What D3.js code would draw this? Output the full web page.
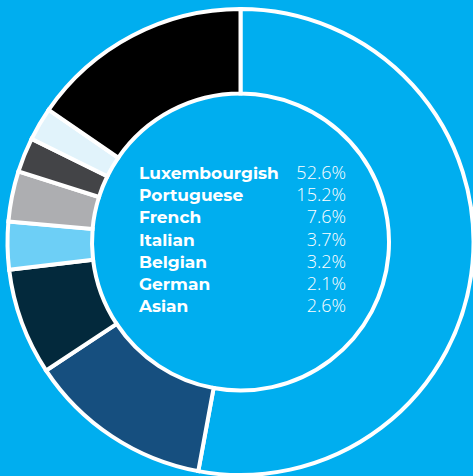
<!DOCTYPE html>
<html>
<head>
<meta charset="utf-8">
<script src="https://cdn.jsdelivr.net/npm/d3@7"></script>
<style>
  html, body { margin: 0; padding: 0; background: #00aeef; }
  svg { display: block; }
</style>
</head>
<body>
<svg id="chart"></svg>
<script>
// legend text
const labels = ['Luxembourgish', 'Portuguese', 'French', 'Italian', 'Belgian', 'German', 'Asian']
const legendValues = ['52.6%', '15.2%', '7.6%', '3.7%', '3.2%', '2.1%', '2.6%']

// slice shares as drawn in the ring, last one is the rest
const slices = ['Luxembourgish', 'Portuguese', 'French', 'Italian', 'Belgian', 'German', 'Asian', 'Other']
const sliceShare = [52.9, 12.8, 7.4, 3.3, 3.5, 2.4, 2.3, 15.4]
const sliceColors = ['#00aeef', '#164f7f', '#03293c', '#6dcff6', '#adaeb1', '#434447', '#e1f3fb', '#000000']

var width = 473
var height = 476
var cx = 240.5, cy = 242

var svg = d3.select('#chart')
    .attr('width', width)
    .attr('height', height)

svg.append('rect')
    .attr('width', width)
    .attr('height', height)
    .attr('fill', '#00aeef')

let color = d3.scaleOrdinal().domain(slices).range(sliceColors)

let pie = d3.pie().sort(null).value((d) => d.value)
let arc = d3.arc().innerRadius(148.5).outerRadius(233)

let data = slices.map((s, i) => ({name: s, value: sliceShare[i]}))

let g = svg.append('g')
    .attr('transform', 'translate(' + cx + ',' + cy + ')')

g.selectAll('path')
    .data(pie(data))
    .enter()
    .append('path')
    .attr('d', arc)
    .attr('fill', (d) => color(d.data.name))
    .attr('stroke', '#fff')
    .attr('stroke-width', 4)
    .attr('stroke-linejoin', 'miter')

// legend in the hole
let y = d3.scalePoint().domain(labels).range([179, 312])

let rows = svg.append('g').selectAll('g')
    .data(labels)
    .enter()
    .append('g')

rows.append('text')
    .attr('x', 139)
    .attr('y', (d) => y(d))
    .attr('fill', '#fff')
    .attr('font-family', 'Montserrat, "Open Sans", sans-serif')
    .attr('font-weight', 700)
    .attr('font-size', 17)
    .text((d) => d)

rows.append('text')
    .attr('x', 346)
    .attr('y', (d) => y(d))
    .attr('text-anchor', 'end')
    .attr('fill', '#fff')
    .attr('font-family', '"Open Sans", sans-serif')
    .attr('font-weight', 300)
    .attr('font-size', 18)
    .text((d, i) => legendValues[i])
</script>
</body>
</html>
